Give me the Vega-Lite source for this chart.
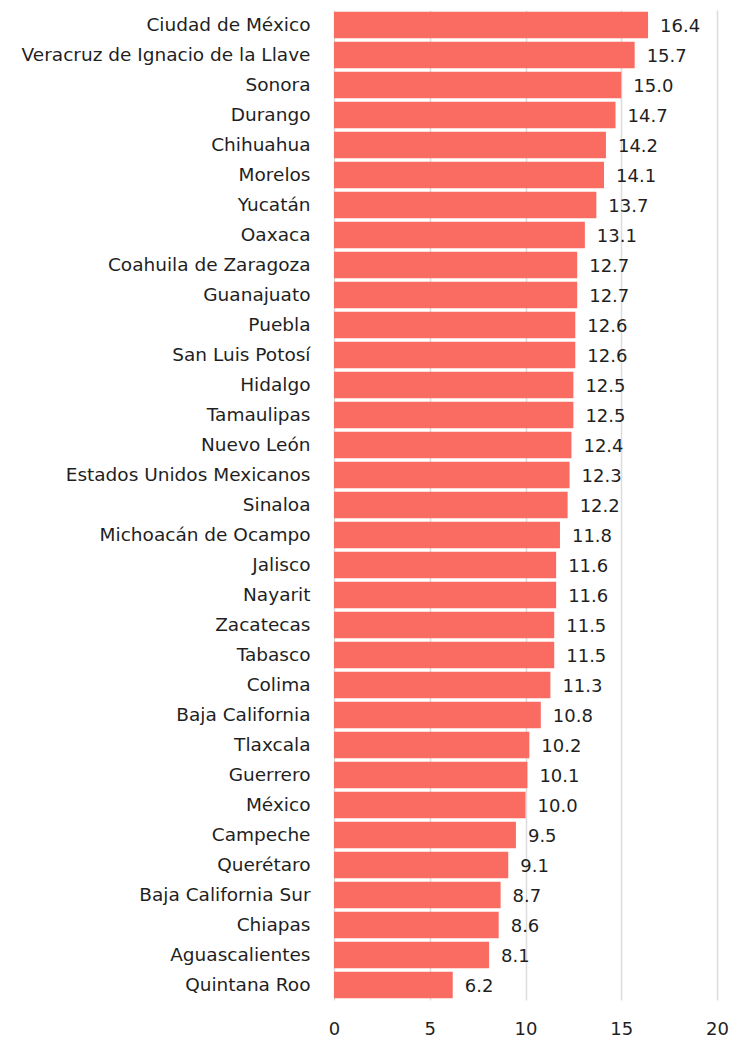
{
  "$schema": "https://vega.github.io/schema/vega-lite/v6.json",
  "width": 383,
  "height": 990,
  "autosize": {"type": "none"},
  "padding": {"left": 334, "top": 10, "right": 13, "bottom": 42},
  "background": "white",
  "config": {
    "view": {"stroke": null},
    "font": "DejaVu Sans"
  },
  "data": {
    "values": [
      {"estado": "Ciudad de México", "valor": 16.4},
      {"estado": "Veracruz de Ignacio de la Llave", "valor": 15.7},
      {"estado": "Sonora", "valor": 15.0},
      {"estado": "Durango", "valor": 14.7},
      {"estado": "Chihuahua", "valor": 14.2},
      {"estado": "Morelos", "valor": 14.1},
      {"estado": "Yucatán", "valor": 13.7},
      {"estado": "Oaxaca", "valor": 13.1},
      {"estado": "Coahuila de Zaragoza", "valor": 12.7},
      {"estado": "Guanajuato", "valor": 12.7},
      {"estado": "Puebla", "valor": 12.6},
      {"estado": "San Luis Potosí", "valor": 12.6},
      {"estado": "Hidalgo", "valor": 12.5},
      {"estado": "Tamaulipas", "valor": 12.5},
      {"estado": "Nuevo León", "valor": 12.4},
      {"estado": "Estados Unidos Mexicanos", "valor": 12.3},
      {"estado": "Sinaloa", "valor": 12.2},
      {"estado": "Michoacán de Ocampo", "valor": 11.8},
      {"estado": "Jalisco", "valor": 11.6},
      {"estado": "Nayarit", "valor": 11.6},
      {"estado": "Zacatecas", "valor": 11.5},
      {"estado": "Tabasco", "valor": 11.5},
      {"estado": "Colima", "valor": 11.3},
      {"estado": "Baja California", "valor": 10.8},
      {"estado": "Tlaxcala", "valor": 10.2},
      {"estado": "Guerrero", "valor": 10.1},
      {"estado": "México", "valor": 10.0},
      {"estado": "Campeche", "valor": 9.5},
      {"estado": "Querétaro", "valor": 9.1},
      {"estado": "Baja California Sur", "valor": 8.7},
      {"estado": "Chiapas", "valor": 8.6},
      {"estado": "Aguascalientes", "valor": 8.1},
      {"estado": "Quintana Roo", "valor": 6.2}
    ]
  },
  "encoding": {
    "y": {
      "field": "estado",
      "type": "nominal",
      "sort": null,
      "title": null,
      "scale": {"paddingInner": 0.12, "paddingOuter": 0.06},
      "axis": {
        "domain": false,
        "ticks": false,
        "labelPadding": 24,
        "labelFontSize": 18.5,
        "labelColor": "#1f1f1f",
        "labelLimit": 340
      }
    },
    "x": {
      "field": "valor",
      "type": "quantitative",
      "title": null,
      "scale": {"domain": [0, 20], "nice": false},
      "axis": {
        "values": [0, 5, 10, 15, 20],
        "domain": false,
        "ticks": false,
        "grid": true,
        "gridColor": "#dcdcdc",
        "gridWidth": 1.5,
        "labelPadding": 20,
        "labelFontSize": 18,
        "labelFlush": false,
        "labelAlign": "center",
        "labelColor": "#1f1f1f"
      }
    }
  },
  "layer": [
    {
      "mark": {"type": "bar", "color": "#FA6B62"}
    },
    {
      "mark": {"type": "text", "align": "left", "dx": 12, "dy": 2, "fontSize": 18, "color": "#1f1f1f"},
      "encoding": {
        "text": {"field": "valor", "type": "quantitative", "format": ".1f"}
      }
    }
  ]
}
